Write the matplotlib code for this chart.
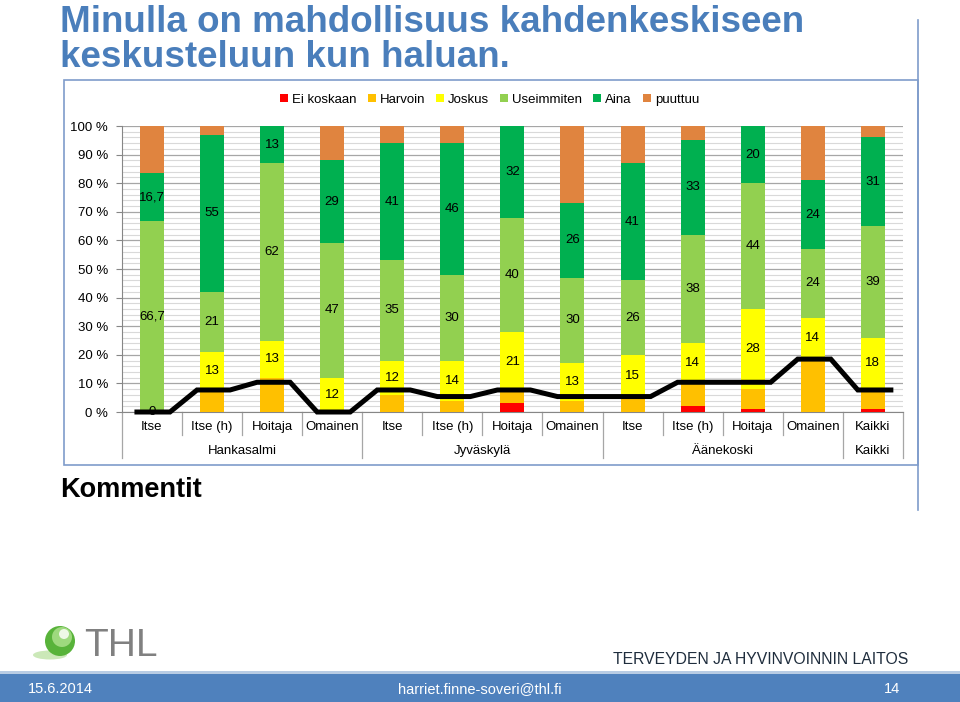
import numpy as np
import matplotlib
matplotlib.use('Agg')
import matplotlib.pyplot as plt
from matplotlib.patches import Rectangle, Circle, Ellipse
import matplotlib.transforms as mtransforms

plt.rcParams['font.family'] = ['Liberation Sans', 'DejaVu Sans']

# Kategoriat
categories = ['Itse', 'Itse (h)', 'Hoitaja', 'Omainen',
              'Itse', 'Itse (h)', 'Hoitaja', 'Omainen',
              'Itse', 'Itse (h)', 'Hoitaja', 'Omainen',
              'Kaikki']
groups = ['Hankasalmi', 'Jyväskylä', 'Äänekoski', 'Kaikki']
group_sizes = [4, 4, 4, 1]

# Osuudet (%)
ei_koskaan = [0, 0, 0, 0, 0, 0, 3, 0, 0, 2, 1, 0, 1]
harvoin    = [0, 8, 12, 0, 6, 4, 4, 4, 5, 8, 7, 19, 7]
joskus     = [0, 13, 13, 12, 12, 14, 21, 13, 15, 14, 28, 14, 18]
useimmiten = [66.7, 21, 62, 47, 35, 30, 40, 30, 26, 38, 44, 24, 39]
aina       = [16.7, 55, 13, 29, 41, 46, 32, 26, 41, 33, 20, 24, 31]
puuttuu    = [16.6, 3, 0, 12, 6, 6, 0, 27, 13, 5, 0, 19, 4]

# musta viiva
viiva = [0, 7.7, 10.4, 0, 7.7, 5.4, 7.7, 5.4, 5.4, 10.4, 10.4, 18.5, 7.7]

series = [('Ei koskaan', ei_koskaan, '#FF0000', False),
          ('Harvoin', harvoin, '#FFC000', False),
          ('Joskus', joskus, '#FFFF00', True),
          ('Useimmiten', useimmiten, '#92D050', True),
          ('Aina', aina, '#00B050', True),
          ('puuttuu', puuttuu, '#E0843F', False)]

fig = plt.figure(figsize=(9.6, 7.02), dpi=100)

# koristeet pikselikoordinaateissa
deco = fig.add_axes([0, 0, 1, 1], zorder=0)
deco.set_xlim(0, 960)
deco.set_ylim(702, 0)
deco.axis('off')

frame_col = '#7F9CCB'
deco.add_patch(Rectangle((64, 80), 854, 385, fill=False, ec=frame_col, lw=1.2))
deco.plot([918, 918], [20, 510], color=frame_col, lw=1.2)

title_col = '#4A7EBB'
deco.text(60, 32, 'Minulla on mahdollisuus kahdenkeskiseen', color=title_col,
          fontsize=26.5, fontweight='bold', va='baseline', ha='left')
deco.text(60, 67, 'keskusteluun kun haluan.', color=title_col,
          fontsize=26.5, fontweight='bold', va='baseline', ha='left')
deco.text(60, 497, 'Kommentit', color='black', fontsize=19.5,
          fontweight='bold', va='baseline', ha='left')

# THL logo
deco.add_patch(Ellipse((50, 655), 34, 9, color='#CBE8B8', lw=0))
deco.add_patch(Circle((60, 641), 15, color='#58B33A', lw=0))
deco.add_patch(Circle((62, 637), 10, color='#9ED97E', lw=0))
deco.add_patch(Circle((64, 634), 5, color='#EEF8E6', lw=0))
deco.text(84, 656, 'THL', color='#808080', fontsize=28, va='baseline', ha='left')
deco.text(908, 659, 'TERVEYDEN JA HYVINVOINNIN LAITOS', color='#1F2D3D',
          fontsize=11.3, va='center', ha='right')

# alapalkki
deco.add_patch(Rectangle((0, 671), 960, 3, color='#B8CCE4', lw=0))
deco.add_patch(Rectangle((0, 674), 960, 28, color='#4F81BD', lw=0))
deco.text(28, 689, '15.6.2014', color='white', fontsize=10.5, va='center', ha='left')
deco.text(480, 689, 'harriet.finne-soveri@thl.fi', color='white', fontsize=10.5,
          va='center', ha='center')
deco.text(900, 689, '14', color='white', fontsize=10.5, va='center', ha='right')

# kaavio
ax = fig.add_axes([0.127, 0.4131, 0.8135, 0.4074], zorder=2)
ax.patch.set_alpha(0)
x = np.arange(len(categories))
bottom = np.zeros(len(categories))
handles = []
for name, vals, col, show in series:
    vals = np.array(vals, dtype=float)
    bars = ax.bar(x, vals, 0.4, bottom=bottom, color=col, label=name, zorder=3)
    if show:
        labels = [f'{v:g}'.replace('.', ',') for v in vals]
        ax.bar_label(bars, labels=labels, label_type='center', fontsize=9.5,
                     color='black', zorder=6)
    bottom += vals
    handles.append(bars)

# viiva: tasainen osuus jokaisen pylvään kohdalla
lx, ly = [], []
for i, v in enumerate(viiva):
    lx += [i - 0.25, i + 0.3]
    ly += [v, v]
ax.plot(lx, ly, color='black', lw=3.6, zorder=5, solid_joinstyle='miter',
        clip_on=False)

ax.set_xlim(-0.5, len(categories) - 0.5)
ax.set_ylim(0, 100)
ax.set_yticks(np.arange(0, 101, 10))
ax.set_yticklabels([f'{t} %' for t in range(0, 101, 10)], fontsize=9.5)
ax.set_yticks(np.arange(0, 101, 2), minor=True)
ax.grid(axis='y', which='major', color='#A6A6A6', lw=0.9, zorder=0)
ax.grid(axis='y', which='minor', color='#D9D9D9', lw=0.8, zorder=0)
ax.tick_params(axis='y', which='major', length=4, color='#868686', pad=6)
ax.tick_params(axis='y', which='minor', length=0)
ax.set_xticks([])
for s in ['top', 'right']:
    ax.spines[s].set_visible(False)
ax.spines['left'].set_color('#868686')
ax.spines['bottom'].set_color('#868686')

# kaksitasoiset kategoriat
trans = mtransforms.blended_transform_factory(ax.transData, ax.transAxes)
for i, c in enumerate(categories):
    ax.text(i, -0.052, c, transform=trans, ha='center', va='center', fontsize=9.5)
edges = np.cumsum([0] + group_sizes) - 0.5
for j, g in enumerate(groups):
    mid = (edges[j] + edges[j + 1]) / 2
    ax.text(mid, -0.136, g, transform=trans, ha='center', va='center', fontsize=9.5)
for i in range(len(categories) - 1):
    xb = i + 0.5
    if np.any(np.isclose(edges, xb)):
        continue
    ax.plot([xb, xb], [0, -0.08], transform=trans, color='#A6A6A6', lw=0.9,
            clip_on=False)
for xb in edges:
    ax.plot([xb, xb], [0, -0.161], transform=trans, color='#A6A6A6', lw=0.9,
            clip_on=False)

fig.legend(handles=handles, loc='center', bbox_to_anchor=(0.51, 0.858), ncol=6,
           frameon=False, fontsize=9.5, handlelength=0.6, handleheight=0.6,
           handletextpad=0.3, columnspacing=0.85)

fig.savefig('out.png', dpi=100)
